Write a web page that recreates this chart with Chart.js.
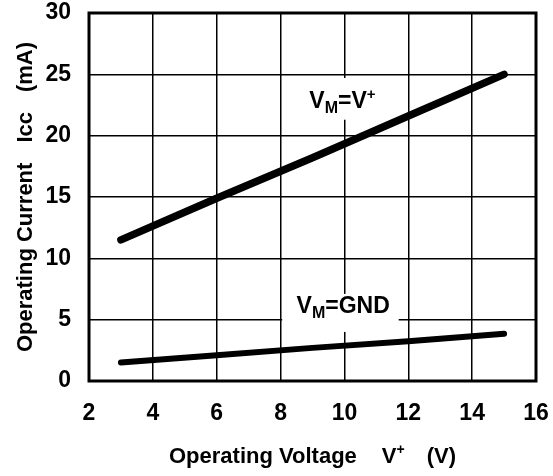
<!DOCTYPE html>
<html>
<head>
<meta charset="utf-8">
<script src="https://cdn.jsdelivr.net/npm/chart.js@4/dist/chart.umd.min.js"></script>
<style>
  html, body { margin: 0; padding: 0; background: #fff; }
  canvas { display: block; }
</style>
</head>
<body>
<canvas id="chart" width="553" height="476"></canvas>
<script>
// data
const voltage = [3, 6, 9, 12, 15];
const iccVmVplus = [11.5, 14.9, 18.2, 21.6, 25.0];
const iccVmGnd = [1.5, 2.1, 2.7, 3.25, 3.85];

const xTicks = [2, 4, 6, 8, 10, 12, 14, 16];
const yTicks = [0, 5, 10, 15, 20, 25, 30];

const FONT = "'Liberation Sans', Arial, Helvetica, sans-serif";

function toPoints(xs, ys) {
  return xs.map((x, i) => ({ x: x, y: ys[i] }));
}

// draw text made of pieces: [text, sizePx, baselineShift]
function drawRich(ctx, parts, x, y) {
  let cx = x;
  parts.forEach(([txt, size, shift]) => {
    ctx.font = "bold " + size + "px " + FONT;
    ctx.fillText(txt, cx, y + shift);
    cx += ctx.measureText(txt).width;
  });
  return cx - x;
}
function richWidth(ctx, parts) {
  let w = 0;
  parts.forEach(([txt, size]) => {
    ctx.font = "bold " + size + "px " + FONT;
    w += ctx.measureText(txt).width;
  });
  return w;
}

// labels on the curves, with white box behind them
const curveLabels = [
  { at: [8.9, 22.25], box: [8.6, 11.4, 24.7, 21.3], parts: [["V", 23, 0], ["M", 16, 5], ["=V", 23, 0], ["+", 15, -9]] },
  { at: [8.5, 5.55], box: [8.05, 11.7, 7.1, 4.0], parts: [["V", 23, 0], ["M", 16, 5], ["=GND", 23, 0]] }
];

const decorPlugin = {
  id: "decor",
  beforeDatasetsDraw(chart) {
    const ctx = chart.ctx;
    const xs = chart.scales.x, ys = chart.scales.y;
    ctx.save();
    curveLabels.forEach(lb => {
      const bx1 = xs.getPixelForValue(lb.box[0]), bx2 = xs.getPixelForValue(lb.box[1]);
      const by1 = ys.getPixelForValue(lb.box[2]), by2 = ys.getPixelForValue(lb.box[3]);
      ctx.fillStyle = "#fff";
      ctx.fillRect(bx1, by1, bx2 - bx1, by2 - by1);
      ctx.fillStyle = "#000";
      ctx.textBaseline = "alphabetic";
      ctx.textAlign = "left";
      drawRich(ctx, lb.parts, xs.getPixelForValue(lb.at[0]), ys.getPixelForValue(lb.at[1]));
    });
    ctx.restore();
  },
  afterDraw(chart) {
    const ctx = chart.ctx;
    const a = chart.chartArea;
    ctx.save();
    // thick frame
    ctx.strokeStyle = "#000";
    ctx.lineWidth = 3;
    ctx.strokeRect(a.left, a.top, a.right - a.left, a.bottom - a.top);

    ctx.fillStyle = "#000";
    ctx.textBaseline = "alphabetic";
    ctx.textAlign = "left";

    // x axis title
    const xParts1 = [["Operating Voltage", 22, 0]];
    const xParts2 = [["V", 22, 0], ["+", 14, -9]];
    const xParts3 = [["(V)", 22, 0]];
    const gap1 = 25, gap2 = 22;
    const w1 = richWidth(ctx, xParts1), w2 = richWidth(ctx, xParts2), w3 = richWidth(ctx, xParts3);
    const total = w1 + gap1 + w2 + gap2 + w3;
    let sx = (a.left + a.right) / 2 - total / 2;
    const by = 463;
    drawRich(ctx, xParts1, sx, by);
    sx += w1 + gap1;
    drawRich(ctx, xParts2, sx, by);
    sx += w2 + gap2;
    drawRich(ctx, xParts3, sx, by);

    // y axis title (rotated)
    ctx.translate(32, (a.top + a.bottom) / 2);
    ctx.rotate(-Math.PI / 2);
    const yParts = [[["Operating Current", 22, 0]], [["Icc", 22, 0]], [["(mA)", 22, 0]]];
    const ygap = 20;
    const widths = yParts.map(p => richWidth(ctx, p));
    const ytotal = widths.reduce((s, w) => s + w, 0) + ygap * (yParts.length - 1);
    let ty = -ytotal / 2;
    yParts.forEach((p, i) => {
      drawRich(ctx, p, ty, 0);
      ty += widths[i] + ygap;
    });
    ctx.restore();
  }
};

new Chart(document.getElementById("chart"), {
  type: "line",
  data: {
    datasets: [
      {
        label: "VM=V+",
        data: toPoints(voltage, iccVmVplus),
        borderColor: "#000",
        borderWidth: 7.5,
        borderCapStyle: "round",
        pointRadius: 0,
        fill: false,
        tension: 0
      },
      {
        label: "VM=GND",
        data: toPoints(voltage, iccVmGnd),
        borderColor: "#000",
        borderWidth: 6,
        borderCapStyle: "round",
        pointRadius: 0,
        fill: false,
        tension: 0
      }
    ]
  },
  options: {
    responsive: false,
    animation: false,
    layout: { padding: { top: 13, right: 17, left: 0, bottom: 0 } },
    plugins: { legend: { display: false }, tooltip: { enabled: false } },
    scales: {
      x: {
        type: "linear",
        min: xTicks[0],
        max: xTicks[xTicks.length - 1],
        afterBuildTicks: (s) => { s.ticks = xTicks.map(v => ({ value: v })); },
        afterFit: (s) => { s.height = 95; s.paddingLeft = 0; s.paddingRight = 0; },
        grid: { color: "#000", lineWidth: 1.5, drawTicks: false },
        border: { display: false },
        ticks: { color: "#000", padding: 19, font: { family: FONT, size: 23, weight: "bold" } }
      },
      y: {
        type: "linear",
        min: yTicks[0],
        max: yTicks[yTicks.length - 1],
        afterBuildTicks: (s) => { s.ticks = yTicks.map(v => ({ value: v })); },
        afterFit: (s) => { s.width = 89; s.paddingTop = 0; s.paddingBottom = 0; },
        grid: { color: "#000", lineWidth: 1.5, drawTicks: false },
        border: { display: false },
        ticks: { color: "#000", padding: 18, font: { family: FONT, size: 23, weight: "bold" } }
      }
    }
  },
  plugins: [decorPlugin]
});
</script>
</body>
</html>
